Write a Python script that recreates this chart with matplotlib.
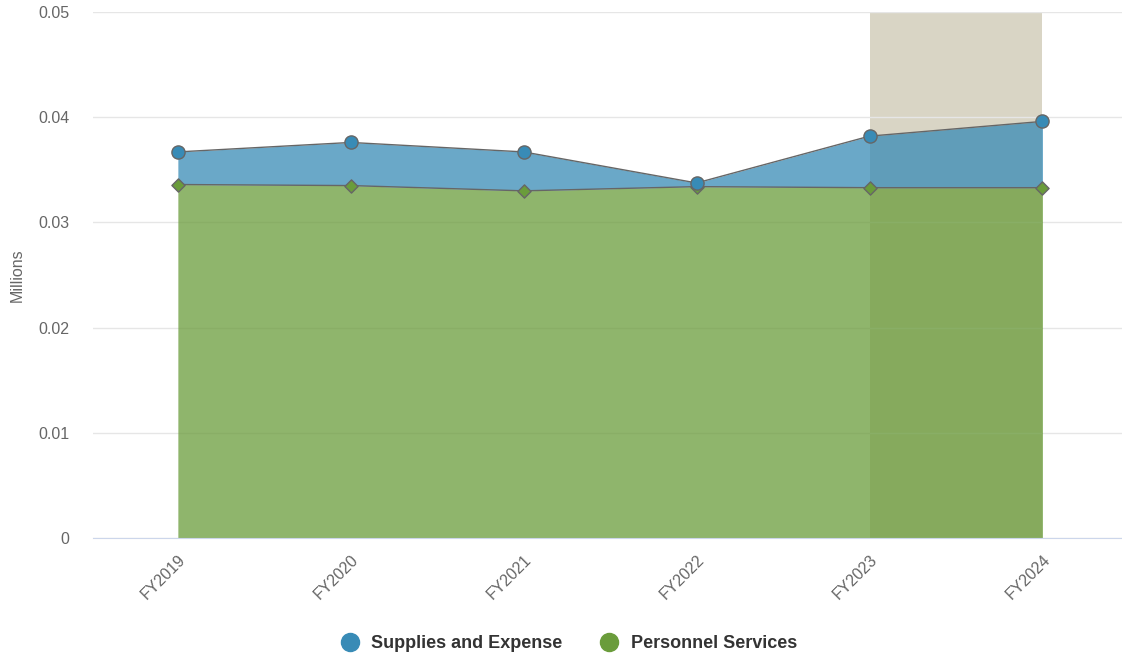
import matplotlib.pyplot as plt
from matplotlib.lines import Line2D

plt.rcParams["font.family"] = ["Liberation Sans", "DejaVu Sans"]

# fiscal years and spending (millions)
years = ["FY2019", "FY2020", "FY2021", "FY2022", "FY2023", "FY2024"]
personnel = [0.0336, 0.0335, 0.0330, 0.0334, 0.0333, 0.0333]
supplies = [0.0031, 0.0041, 0.0037, 0.00035, 0.0049, 0.0063]

blue = "#388bb6"
green = "#6a9c3b"
edge = "#666666"

fig = plt.figure(figsize=(11.22, 6.55), dpi=100)
ax = fig.add_axes([0.083, 0.1786, 0.917, 0.8031])

x = list(range(len(years)))
total = [p + s for p, s in zip(personnel, supplies)]

# projected years band
ax.axvspan(4, 5, color="#d9d5c5", zorder=0, lw=0)

ax.fill_between(x, 0, personnel, color=green, alpha=0.75, lw=0, zorder=2)
ax.fill_between(x, personnel, total, color=blue, alpha=0.75, lw=0, zorder=2)
ax.plot(x, personnel, color=edge, lw=1, zorder=3)
ax.plot(x, total, color=edge, lw=1, zorder=3)
ax.scatter(x, personnel, marker="D", s=45, color=green, edgecolor=edge, lw=1, zorder=4)
ax.scatter(x, total, marker="o", s=90, color=blue, edgecolor=edge, lw=1, zorder=4)

ax.set_xlim(-0.49, 5.46)
ax.set_ylim(0, 0.05)
ax.set_yticks([0, 0.01, 0.02, 0.03, 0.04, 0.05])
ax.set_yticklabels(["0", "0.01", "0.02", "0.03", "0.04", "0.05"])
ax.set_xticks(x)
ax.set_xticklabels(years, rotation=45, ha="right", rotation_mode="anchor")
ax.tick_params(axis="y", length=0, labelsize=11.5, labelcolor="#666666", pad=17)
ax.tick_params(axis="x", length=0, labelsize=11.5, labelcolor="#666666", pad=10)
ax.grid(axis="y", color="#e6e6e6", lw=1, zorder=1)
ax.set_axisbelow(True)
for side in ["left", "right", "top"]:
    ax.spines[side].set_visible(False)
ax.spines["bottom"].set_color("#ccd6eb")
ax.set_ylabel("Millions", fontsize=11.5, color="#666666")
ax.yaxis.set_label_coords(-0.066, 0.5)

handles = [
    Line2D([], [], marker="o", ls="", markersize=13, color=blue, label="Supplies and Expense"),
    Line2D([], [], marker="o", ls="", markersize=13, color=green, label="Personnel Services"),
]
leg = fig.legend(handles=handles, loc="center", bbox_to_anchor=(0.503, 0.017), ncol=2,
                 frameon=False, prop={"weight": "bold", "size": 13}, handletextpad=0.2,
                 columnspacing=1.6)
for t in leg.get_texts():
    t.set_color("#333333")

fig.savefig("out.png", dpi=100)
